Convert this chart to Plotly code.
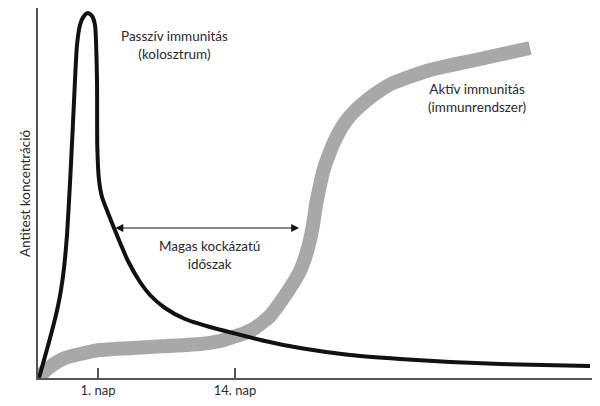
import plotly.graph_objects as go

# Passive immunity (colostrum) curve - arbitrary units
passive_x = [1, 6, 11, 16, 20, 23, 26, 29, 32, 35, 37, 39, 42, 46, 50, 54, 57, 59, 59.3, 61, 64, 70, 76,
             83, 90, 102, 112, 127, 147, 172, 195, 227, 262, 312, 362, 412, 462, 552]
passive_y = [0, 18, 36, 55, 72, 88, 110, 143, 195, 255, 298, 333, 353, 362, 365, 362, 353, 298, 231, 198,
             181, 165, 150, 133, 117, 96, 83, 70, 59, 51, 45, 37, 30, 23, 19, 16, 14, 12]

# Active immunity (immune system) curve - arbitrary units
active_x = [2, 7, 12, 19, 27, 42, 62, 112, 162, 182, 195, 207, 217, 232, 244, 254, 262, 268, 272, 275,
            278, 281, 285, 290, 297, 304, 312, 322, 337, 355, 392, 442, 492]
active_y = [2, 7, 11, 16, 20, 24, 28, 31, 34, 37, 41, 45, 50, 62, 78, 93, 107, 123, 138, 153,
            173, 188, 206, 221, 238, 251, 262, 272, 284, 295, 308, 319, 330]

tick_vals = [60, 197]
tick_text = ["1. nap", "14. nap"]

FONT = "Lato"
TXT = "#2a2a2a"

fig = go.Figure()
fig.add_trace(go.Scatter(x=active_x, y=active_y, mode="lines",
                         line=dict(color="#a8a8a8", width=14, shape="spline", smoothing=0.6),
                         hoverinfo="skip"))
fig.add_trace(go.Scatter(x=passive_x, y=passive_y, mode="lines",
                         line=dict(color="#111111", width=4, shape="spline", smoothing=0.6),
                         hoverinfo="skip"))

annos = [
    dict(x=136.5, y=333, text="Passzív immunitás<br>(kolosztrum)"),
    dict(x=439, y=280.5, text="Aktív immunitás<br>(immunrendszer)"),
    dict(x=171, y=123, text="Magas kockázatú<br>időszak"),
]
for a in annos:
    fig.add_annotation(x=a["x"], y=a["y"], text=a["text"], showarrow=False,
                       font=dict(family=FONT, size=13.5, color=TXT), align="center",
                       xanchor="center", yanchor="middle")

# double-headed arrow
fig.add_annotation(x=261, y=150, ax=76, ay=150, xref="x", yref="y", axref="x", ayref="y",
                   text="", showarrow=True, arrowhead=2, arrowside="end+start",
                   arrowsize=1.3, arrowwidth=1.2, arrowcolor="#111111")

fig.update_layout(
    width=592, height=398,
    margin=dict(l=30, r=0, t=0, b=28, autoexpand=False),
    paper_bgcolor="white", plot_bgcolor="white",
    showlegend=False,
    xaxis=dict(range=[0, 562], showgrid=False, zeroline=False, automargin=False,
               showline=True, linecolor="#555555", linewidth=1.5,
               tickvals=tick_vals, ticktext=tick_text, ticks="inside",
               ticklen=10, tickwidth=1.5, tickcolor="#555555",
               tickfont=dict(family=FONT, size=13, color=TXT)),
    yaxis=dict(range=[0, 370], showgrid=False, zeroline=False, automargin=False,
               showline=True, linecolor="#555555", linewidth=1.5,
               showticklabels=False, ticks=""),
)
fig.add_annotation(x=-0.023, y=0.5, xref="paper", yref="paper",
                   text="Antitest koncentráció", textangle=-90, showarrow=False,
                   xanchor="center", yanchor="middle",
                   font=dict(family=FONT, size=13.5, color=TXT))

fig.write_html("out.html")
